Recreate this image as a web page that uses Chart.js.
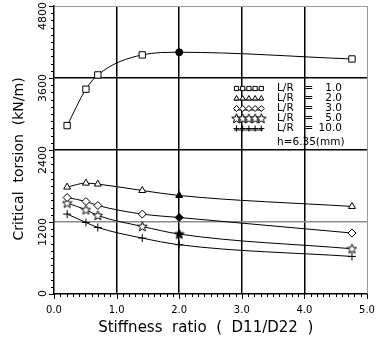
<!DOCTYPE html>
<html>
<head>
<meta charset="utf-8">
<title>Critical torsion vs stiffness ratio</title>
<script src="https://cdn.jsdelivr.net/npm/chart.js@4.4.1/dist/chart.umd.min.js"></script>
<style>
  body { margin: 0; background: #fff; }
  #wrap { width: 378px; height: 343px; }
</style>
</head>
<body>
<div id="wrap"><canvas id="torsionChart" width="378" height="343"></canvas></div>
<script>
// stiffness ratio D11/D22 where the buckling load was computed
var ratio = [0.21, 0.51, 0.70, 1.41, 2.00, 4.76];

// critical torsion (kN/m) for each L/R
var lr10 = [2807, 3413, 3651, 3985, 4029, 3917];
var lr20 = [1782, 1848, 1832, 1725, 1642, 1459];
var lr30 = [1608, 1542, 1475, 1332, 1275, 1016];
var lr50 = [1515, 1404, 1309, 1126, 999, 754];
var lr100 = [1332, 1192, 1109, 932, 821, 626];

var lrLabels = ["1.0", "2.0", "3.0", "5.0", "10.0"];
var thickNote = "h=6.35(mm)";

var yTicksMajor = [0, 1200, 2400, 3600, 4800];
var xTicksMajor = [0, 1, 2, 3, 4, 5];
var yMinorStep = 120;
var xMinorStep = 0.1;

var FONT = "'DejaVu Sans', sans-serif";

function makeStar(fill){
  var c = document.createElement("canvas");
  c.width = 11; c.height = 11;
  var g = c.getContext("2d");
  g.beginPath();
  for (var i = 0; i < 10; i++){
    var r = (i % 2 === 0) ? 5 : 2.2;
    var a = -Math.PI / 2 + i * Math.PI / 5;
    var px = 5.5 + r * Math.cos(a), py = 5.8 + r * Math.sin(a);
    if (i === 0) g.moveTo(px, py); else g.lineTo(px, py);
  }
  g.closePath();
  g.fillStyle = fill;
  g.fill();
  g.strokeStyle = "#000";
  g.lineWidth = 1;
  g.stroke();
  return c;
}
var starOpen = makeStar("#fff");
var starFull = makeStar("#000");

// the point at D11/D22 = 2.0 is plotted solid on every curve
function fills(){
  return ratio.map(function(r, i){ return i === 4 ? "#000" : "#fff"; });
}

function toPoints(vals){
  return ratio.map(function(r, i){ return {x: r, y: vals[i]}; });
}

var markerStyles = ["rect", "triangle", "rectRot", starOpen, "cross"];
var markerSizes = [4.5, 4, 4, 4, 4];

function makeSet(vals, k){
  var styles = ratio.map(function(r, i){
    if (i === 4 && k === 0) return "circle";
    if (i === 4 && k === 3) return starFull;
    return markerStyles[k];
  });
  var sizes = ratio.map(function(r, i){
    return (i === 4 && k === 0) ? 3.5 : markerSizes[k];
  });
  return {
    label: "L/R = " + lrLabels[k],
    data: toPoints(vals),
    borderColor: "#000",
    borderWidth: 1,
    pointStyle: styles,
    pointRadius: sizes,
    pointBorderColor: "#000",
    pointBorderWidth: 1,
    pointBackgroundColor: fills(),
    cubicInterpolationMode: "monotone",
    fill: false
  };
}

function isWhole(v, step){
  return Math.abs(v / step - Math.round(v / step)) < 1e-6;
}

// small comb ticks outside both axes
var minorTicks = {
  id: "minorTicks",
  afterDraw: function(chart){
    var ctx = chart.ctx;
    var xs = chart.scales.x, ys = chart.scales.y;
    var area = chart.chartArea;
    ctx.save();
    ctx.strokeStyle = "#000";
    ctx.lineWidth = 1;
    ctx.beginPath();
    var n = Math.round((ys.max - ys.min) / yMinorStep);
    for (var i = 0; i <= n; i++){
      var v = ys.min + i * yMinorStep;
      var py = Math.round(ys.getPixelForValue(v)) + 0.5;
      var len = isWhole(v, 1200) ? 5 : 3;
      ctx.moveTo(area.left - len, py);
      ctx.lineTo(area.left, py);
    }
    n = Math.round((xs.max - xs.min) / xMinorStep);
    for (i = 0; i <= n; i++){
      v = xs.min + i * xMinorStep;
      var px = Math.round(xs.getPixelForValue(v)) + 0.5;
      len = isWhole(v, 1) ? 5 : 3;
      ctx.moveTo(px, area.bottom);
      ctx.lineTo(px, area.bottom + len);
    }
    ctx.stroke();
    ctx.restore();
  }
};

// legend box: row of markers, then L/R = value
var legendPlugin = {
  id: "lrLegend",
  afterDatasetsDraw: function(chart){
    var ctx = chart.ctx;
    ctx.save();
    ctx.font = "10.5px " + FONT;
    ctx.fillStyle = "#000";
    ctx.textBaseline = "middle";
    for (var k = 0; k < lrLabels.length; k++){
      var y = 88.5 + k * 10;
      ctx.strokeStyle = "#000";
      ctx.lineWidth = 1;
      ctx.beginPath();
      ctx.moveTo(234, y + 1.5);
      ctx.lineTo(263, y + 1.5);
      ctx.stroke();
      for (var m = 0; m < 5; m++){
        ctx.fillStyle = "#fff";
        Chart.helpers.drawPoint(ctx, {
          pointStyle: k === 3 ? starOpen : markerStyles[k],
          radius: 3, rotation: 0, borderWidth: 1
        }, 236.5 + m * 6.2, y);
      }
      ctx.fillStyle = "#000";
      ctx.textAlign = "left";
      ctx.fillText("L/R", 277, y);
      ctx.textAlign = "center";
      ctx.fillText("=", 309, y);
      ctx.textAlign = "right";
      ctx.fillText(lrLabels[k], 342, y);
    }
    ctx.textAlign = "left";
    ctx.fillText(thickNote, 277, 142);
    ctx.restore();
  }
};

new Chart(document.getElementById("torsionChart"), {
  type: "line",
  data: {
    datasets: [
      makeSet(lr10, 0),
      makeSet(lr20, 1),
      makeSet(lr30, 2),
      makeSet(lr50, 3),
      makeSet(lr100, 4)
    ]
  },
  options: {
    responsive: false,
    animation: false,
    devicePixelRatio: 1,
    layout: { padding: { left: 0, top: 6, right: 11, bottom: 0 } },
    plugins: { legend: { display: false }, tooltip: { enabled: false } },
    scales: {
      x: {
        type: "linear",
        min: 0, max: 5,
        afterFit: function(s){ s.height = 49; s.paddingLeft = 0; s.paddingRight = 0; },
        afterBuildTicks: function(s){
          s.ticks = xTicksMajor.map(function(v){ return {value: v}; });
        },
        ticks: {
          autoSkip: false,
          maxRotation: 0, minRotation: 0,
          padding: 10,
          color: "#000",
          font: { family: FONT, size: 10 },
          callback: function(v){ return Number(v).toFixed(1); }
        },
        grid: {
          drawTicks: false,
          color: function(c){
            var v = c.tick ? c.tick.value : 0;
            if (v === 0) return "rgba(0,0,0,0)";
            if (v === 5) return "#9a9a9a";
            return "#000";
          },
          lineWidth: function(c){
            var v = c.tick ? c.tick.value : 0;
            return v === 5 ? 1 : 1.5;
          }
        },
        border: { color: "#000", width: 1.5 },
        title: {
          display: true,
          text: "Stiffness  ratio  (  D11/D22  )  ",
          color: "#000",
          font: { family: FONT, size: 15 },
          padding: { top: 0, bottom: 6 }
        }
      },
      y: {
        type: "linear",
        min: 0, max: 4800,
        afterFit: function(s){ s.width = 54; s.paddingTop = 0; s.paddingBottom = 0; },
        afterBuildTicks: function(s){
          s.ticks = yTicksMajor.map(function(v){ return {value: v}; });
        },
        ticks: {
          autoSkip: false,
          minRotation: 90, maxRotation: 90,
          padding: 11,
          labelOffset: -4,
          color: "#000",
          font: { family: FONT, size: 11 },
          callback: function(v){ return String(v); }
        },
        grid: {
          drawTicks: false,
          color: function(c){
            var v = c.tick ? c.tick.value : 0;
            if (v === 0) return "rgba(0,0,0,0)";
            if (v === 1200) return "#8c8c8c";
            if (v === 4800) return "#9a9a9a";
            return "#000";
          },
          lineWidth: function(c){
            var v = c.tick ? c.tick.value : 0;
            return v === 4800 ? 1 : 1.4;
          }
        },
        border: { color: "#000", width: 1.5 },
        title: {
          display: true,
          text: "Critical  torsion  (kN/m)    ",
          color: "#000",
          font: { family: FONT, size: 14 },
          padding: { top: 11, bottom: 0 }
        }
      }
    }
  },
  plugins: [minorTicks, legendPlugin]
});
</script>
</body>
</html>
